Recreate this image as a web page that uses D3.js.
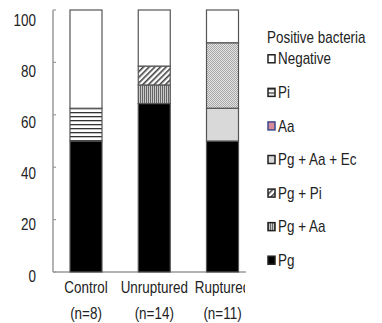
<!DOCTYPE html>
<html>
<head>
<meta charset="utf-8">
<script src="https://cdn.jsdelivr.net/npm/d3@7"></script>
<style>
  body { margin: 0; background: #fff; }
  text { font-family: "Liberation Sans", Arial, sans-serif; fill: #222; font-size: 16px; }
</style>
</head>
<body>
<div id="chart"></div>
<script>
// categories and group sizes
var groups = ["Control", "Unruptured", "Ruptured"];
var groupN = ["(n=8)", "(n=14)", "(n=11)"];

// stack order, bottom to top
var series = ["Pg", "Pg + Aa", "Pg + Pi", "Pg + Aa + Ec", "Aa", "Pi", "Negative"];

// percentage of each series per group (same order as series)
var controlVals    = [50, 0, 0, 0, 0, 12.5, 37.5];
var unrupturedVals = [64.3, 7.1, 7.2, 0, 0, 0, 21.4];
var rupturedVals   = [50, 0, 0, 12.5, 25, 0, 12.5];

var yTicks = [0, 20, 40, 60, 80, 100];

// legend reads top to bottom
var legendOrder = ["Negative", "Pi", "Aa", "Pg + Aa + Ec", "Pg + Pi", "Pg + Aa", "Pg"];

var svgWidth = 382, svgHeight = 323;
var squeeze = 0.84; // the original font is a narrow one

var svg = d3.select("#chart").append("svg")
    .attr("width", svgWidth)
    .attr("height", svgHeight);

// narrow text helper
function narrowText(sel, fx, fy) {
  return sel.append("text")
    .attr("transform", (d, i) => `translate(${fx(d, i)}, ${fy(d, i)}) scale(${squeeze}, 1)`);
}

// patterns
var defs = svg.append("defs");

var pHoriz = defs.append("pattern").attr("id", "p-pi")
    .attr("patternUnits", "userSpaceOnUse").attr("width", 4).attr("height", 4);
pHoriz.append("rect").attr("width", 4).attr("height", 4).attr("fill", "#fff");
pHoriz.append("rect").attr("y", 0).attr("width", 4).attr("height", 1.3).attr("fill", "#333");

var pDiag = defs.append("pattern").attr("id", "p-pgpi")
    .attr("patternUnits", "userSpaceOnUse").attr("width", 4).attr("height", 4)
    .attr("patternTransform", "rotate(45)");
pDiag.append("rect").attr("width", 4).attr("height", 4).attr("fill", "#fff");
pDiag.append("rect").attr("width", 1.6).attr("height", 4).attr("fill", "#444");

var pVert = defs.append("pattern").attr("id", "p-pgaa")
    .attr("patternUnits", "userSpaceOnUse").attr("width", 2).attr("height", 2);
pVert.append("rect").attr("width", 2).attr("height", 2).attr("fill", "#c8c8c8");
pVert.append("rect").attr("width", 1).attr("height", 2).attr("fill", "#666");

var pDots = defs.append("pattern").attr("id", "p-aa")
    .attr("patternUnits", "userSpaceOnUse").attr("width", 2).attr("height", 2);
pDots.append("rect").attr("width", 2).attr("height", 2).attr("fill", "#e4e4e4");
pDots.append("rect").attr("width", 1).attr("height", 1).attr("fill", "#a8a8a8");
pDots.append("rect").attr("x", 1).attr("y", 1).attr("width", 1).attr("height", 1).attr("fill", "#a8a8a8");

var fills = {
  "Pg": "#000",
  "Pg + Aa": "url(#p-pgaa)",
  "Pg + Pi": "url(#p-pgpi)",
  "Pg + Aa + Ec": "#d9d9d9",
  "Aa": "url(#p-aa)",
  "Pi": "url(#p-pi)",
  "Negative": "#fff"
};

// scales
var x = d3.scalePoint().domain(groups).range([86, 222.5]);
var y = d3.scaleLinear().domain([0, 100]).range([272, 10]);
var yLab = d3.scaleLinear().domain([0, 100]).range([276, 20]);
var barW = 32;

// stacked data
var table = [controlVals, unrupturedVals, rupturedVals].map(function (vals, i) {
  var row = { group: groups[i] };
  series.forEach(function (s, j) { row[s] = vals[j]; });
  return row;
});
var stacked = d3.stack().keys(series)(table);

// axes
svg.append("line")
    .attr("x1", 53).attr("x2", 53).attr("y1", y(100)).attr("y2", y(0))
    .attr("stroke", "#9a9a9a").attr("stroke-width", 1.5);
svg.append("line")
    .attr("x1", 53).attr("x2", 246).attr("y1", y(0)).attr("y2", y(0))
    .attr("stroke", "#9a9a9a").attr("stroke-width", 1.5);

svg.selectAll(".ytick").data(yTicks).enter().append("line")
    .attr("x1", 53).attr("x2", 56)
    .attr("y1", d => y(d)).attr("y2", d => y(d))
    .attr("stroke", "#9a9a9a").attr("stroke-width", 1.2);

narrowText(svg.selectAll(".ylab").data(yTicks).enter(), () => 36, d => yLab(d))
    .attr("dy", "0.35em")
    .attr("text-anchor", "end")
    .text(d => d);

// bars
var layers = svg.selectAll(".layer").data(stacked).enter().append("g")
    .attr("fill", d => fills[d.key]);

layers.selectAll("rect")
    .data(d => d.filter(p => p[1] - p[0] > 0))
    .enter().append("rect")
    .attr("x", d => x(d.data.group) - barW / 2)
    .attr("width", barW)
    .attr("y", d => y(d[1]))
    .attr("height", d => y(d[0]) - y(d[1]))
    .attr("stroke", "#555")
    .attr("stroke-width", 1.2);

// category labels (clipped at the right like the original)
defs.append("clipPath").attr("id", "clipx")
    .append("rect").attr("x", 0).attr("y", 0).attr("width", 245).attr("height", svgHeight);

var xl = svg.append("g").attr("clip-path", "url(#clipx)");
narrowText(xl.selectAll(".cat").data(groups).enter(), d => x(d), () => 293)
    .attr("text-anchor", "middle")
    .text(d => d);
narrowText(xl.selectAll(".catn").data(groupN).enter(), (d, i) => x(groups[i]), () => 319)
    .attr("text-anchor", "middle")
    .text(d => d);

// legend
svg.append("text")
    .attr("transform", `translate(267, 43) scale(${squeeze}, 1)`)
    .text("Positive bacteria");

var leg = d3.scaleBand().domain(legendOrder).range([42, 277]);

var li = svg.selectAll(".leg").data(legendOrder).enter().append("g")
    .attr("transform", d => `translate(268, ${leg(d) + leg.bandwidth() / 2})`);

li.append("rect")
    .attr("x", 0).attr("y", -4).attr("width", 7).attr("height", 8)
    .attr("fill", d => d === "Aa" ? "#d98a9a" : fills[d])
    .attr("stroke", d => d === "Aa" ? "#3a4a8a" : "#222")
    .attr("stroke-width", 1.5);

li.append("text")
    .attr("transform", `translate(10, 0) scale(${squeeze}, 1)`)
    .attr("dy", "0.35em")
    .text(d => d);
</script>
</body>
</html>
